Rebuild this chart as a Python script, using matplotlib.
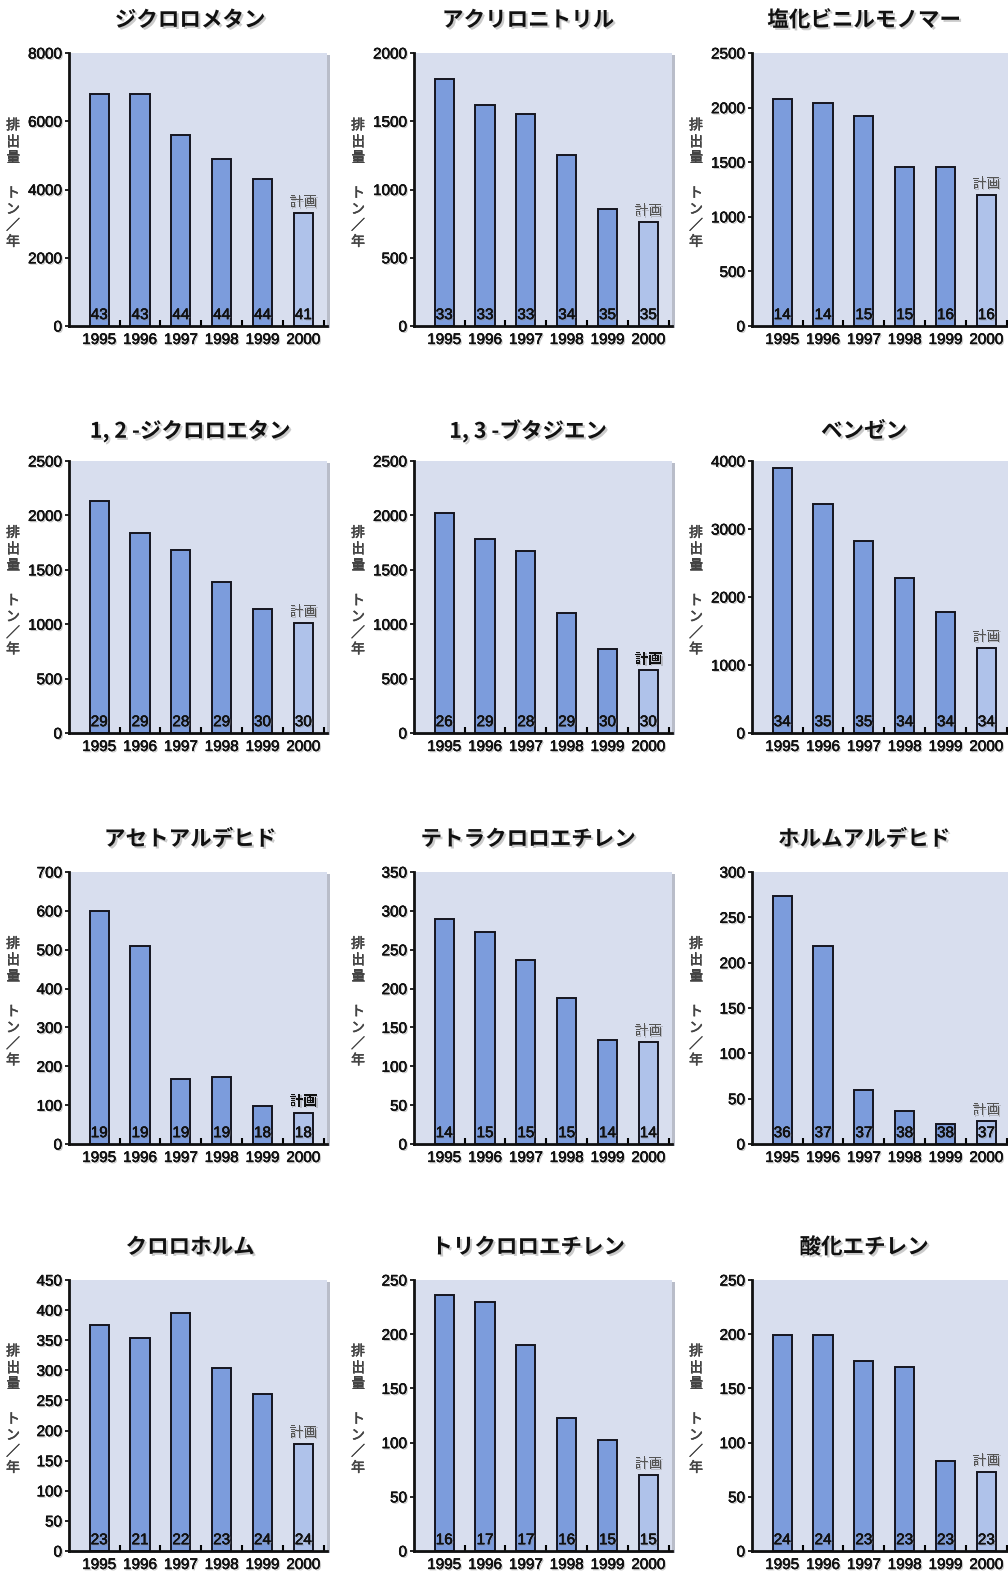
import numpy as np
import matplotlib.pyplot as plt
import matplotlib.patheffects as pe
from matplotlib.patches import Rectangle
from matplotlib.ticker import FixedLocator

years = ['1995', '1996', '1997', '1998', '1999', '2000']

titles = ['ジクロロメタン', 'アクリロニトリル', '塩化ビニルモノマー',
          '1, 2 -ジクロロエタン', '1, 3 -ブタジエン', 'ベンゼン',
          'アセトアルデヒド', 'テトラクロロエチレン', 'ホルムアルデヒド',
          'クロロホルム', 'トリクロロエチレン', '酸化エチレン']

# 排出量 (トン/年), last year is the plan
dichloromethane = [6800, 6800, 5600, 4900, 4300, 3300]
acrylonitrile = [1810, 1620, 1550, 1250, 860, 760]
vinyl_chloride = [2080, 2040, 1920, 1460, 1460, 1200]
dichloroethane = [2130, 1840, 1680, 1390, 1140, 1010]
butadiene = [2020, 1780, 1670, 1100, 770, 575]
benzene = [3890, 3370, 2820, 2280, 1780, 1250]
acetaldehyde = [600, 510, 166, 173, 98, 81]
tetrachloroethylene = [289, 273, 237, 188, 134, 131]
formaldehyde = [274, 218, 60, 36, 22, 25]
chloroform = [376, 353, 396, 304, 260, 178]
trichloroethylene = [236, 230, 190, 123, 102, 70]
ethylene_oxide = [199, 199, 175, 170, 83, 73]

emissions = [dichloromethane, acrylonitrile, vinyl_chloride,
             dichloroethane, butadiene, benzene,
             acetaldehyde, tetrachloroethylene, formaldehyde,
             chloroform, trichloroethylene, ethylene_oxide]

# number of reporting companies per year
companies = [[43, 43, 44, 44, 44, 41],
             [33, 33, 33, 34, 35, 35],
             [14, 14, 15, 15, 16, 16],
             [29, 29, 28, 29, 30, 30],
             [26, 29, 28, 29, 30, 30],
             [34, 35, 35, 34, 34, 34],
             [19, 19, 19, 19, 18, 18],
             [14, 15, 15, 15, 14, 14],
             [36, 37, 37, 38, 38, 37],
             [23, 21, 22, 23, 24, 24],
             [16, 17, 17, 16, 15, 15],
             [24, 24, 23, 23, 23, 23]]

y_max = [8000, 2000, 2500, 2500, 2500, 4000, 700, 350, 300, 450, 250, 250]
y_step = [2000, 500, 500, 500, 500, 1000, 100, 50, 50, 50, 50, 50]

plan_bold = [False, False, False, False, True, False,
             True, False, False, False, False, False]

plt.rcParams['font.family'] = ['Liberation Sans', 'Noto Sans CJK JP', 'DejaVu Sans']

W, H = 1008, 1578
fig = plt.figure(figsize=(W / 100, H / 100), dpi=100)
fig.patch.set_facecolor('white')

# layout in pixels
col_left = [69, 414, 752]
row_span = [(53, 326), (461, 733), (872, 1144), (1280, 1551)]
title_y = [20, 431, 839, 1247]
title_x = [190, 528, 864]
ax_w = 258

# slightly heavy text with a soft grey drop shadow
shadow = [pe.withSimplePatchShadow(offset=(1, -1), shadow_rgbFace='#888888', alpha=0.45),
          pe.withStroke(linewidth=0.3, foreground='#111111')]
cjk = ['Noto Sans CJK JP', 'DejaVu Sans']

bar_color = '#7c9cdc'
plan_color = '#afc2ea'
bg_color = '#d8deee'

for i in range(12):
    r, c = divmod(i, 3)
    top, bot = row_span[r]
    left = col_left[c]
    rect = [left / W, 1 - bot / H, ax_w / W, (bot - top) / H]

    # soft shadow behind the panel
    fig.patches.append(Rectangle(((left + 3) / W, 1 - (bot + 2) / H), ax_w / W, (bot - top) / H,
                                 transform=fig.transFigure, facecolor='#b9bdc9',
                                 edgecolor='none', zorder=-1))

    ax = fig.add_axes(rect)
    ax.set_facecolor(bg_color)
    x = np.arange(len(years))
    vals = emissions[i]
    colors = [bar_color] * 5 + [plan_color]
    ax.bar(x, vals, width=0.47, color=colors, edgecolor='#15151f', linewidth=1.4, zorder=2)

    ax.set_xlim(-0.74, 5.58)
    ax.set_ylim(0, y_max[i])
    ax.set_yticks(np.arange(0, y_max[i] + 1, y_step[i]))
    ax.set_xticks(x)
    ax.set_xticklabels(years)
    ax.xaxis.set_minor_locator(FixedLocator(x + 0.5))
    ax.tick_params(axis='x', which='major', length=0, pad=5, labelsize=11, labelcolor='#111111')
    ax.tick_params(axis='x', which='minor', direction='in', length=4, width=1.5)
    ax.tick_params(axis='y', length=3, width=1.2, pad=2, labelsize=11, labelcolor='#111111')
    for lab in ax.get_xticklabels() + ax.get_yticklabels():
        lab.set_path_effects(shadow)

    for s in ['top', 'right']:
        ax.spines[s].set_visible(False)
    for s in ['left', 'bottom']:
        ax.spines[s].set_linewidth(2)
        ax.spines[s].set_color('#111111')

    # company counts at the foot of each bar
    for xi, n in zip(x, companies[i]):
        ax.text(xi, 0.04, str(n), transform=ax.get_xaxis_transform(),
                ha='center', va='center', fontsize=11, color='#111111',
                path_effects=shadow, zorder=3)

    # plan label above the last bar
    plan_col = '#111111' if plan_bold[i] else '#555555'
    ax.annotate('計画', (x[-1], vals[-1]), xytext=(0, 3), textcoords='offset points',
                ha='center', va='bottom', fontsize=10, family=cjk, color=plan_col,
                fontweight='bold' if plan_bold[i] else 'normal',
                path_effects=[pe.withSimplePatchShadow(offset=(1, -1), shadow_rgbFace='#888888',
                                                       alpha=0.4)])

    # title
    fig.text(title_x[c] / W, 1 - title_y[r] / H, titles[i], ha='center', va='center',
             fontsize=15.5, fontweight='bold', family=cjk, color='#111111',
             path_effects=[pe.withSimplePatchShadow(offset=(1.5, -1.5),
                                                    shadow_rgbFace='#999999', alpha=0.5)])

    # vertical y label
    mid = (top + bot) / 2
    lx = (left - 56) / W
    for txt, dy in [('排\n出\n量', -48), ('ト\nン\n／\n年', 28)]:
        fig.text(lx, 1 - (mid + dy) / H, txt, ha='center', va='center',
                 fontsize=10, family=cjk, color='#444444', linespacing=1.2,
                 path_effects=[pe.withStroke(linewidth=0.4, foreground='#444444')])

fig.savefig('out.png', dpi=100)
